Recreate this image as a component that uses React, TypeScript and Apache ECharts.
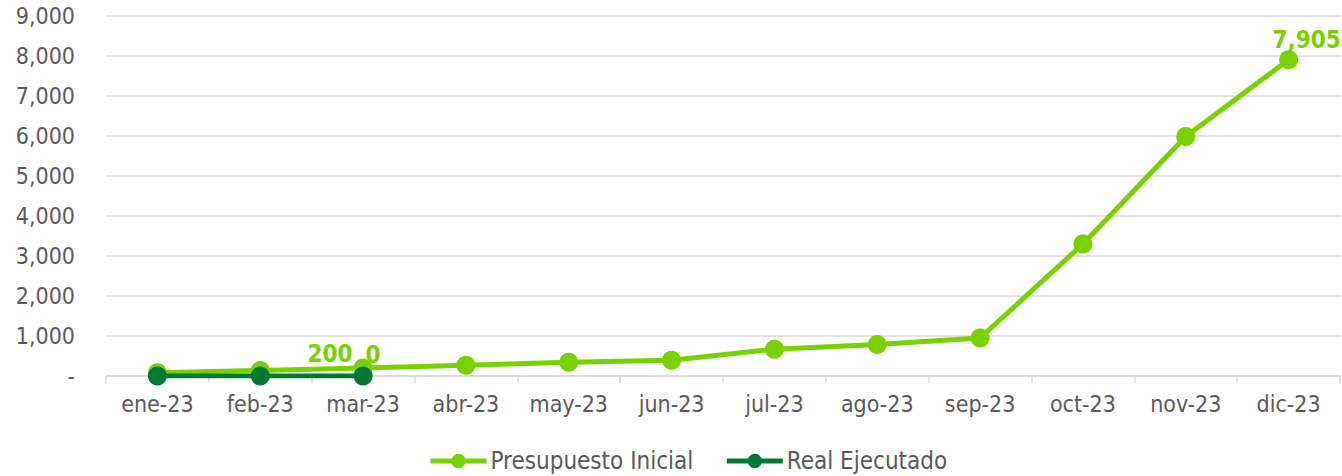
import React, { useEffect, useRef } from "react";
import * as echarts from "echarts";

const categories = ["ene-23", "feb-23", "mar-23", "abr-23", "may-23", "jun-23", "jul-23", "ago-23", "sep-23", "oct-23", "nov-23", "dic-23"];
const presupuestoInicial = [80, 140, 200, 270, 345, 395, 670, 785, 950, 3300, 5990, 7905];
const realEjecutado = [0, 0, 0];
const yTicks = [0, 1000, 2000, 3000, 4000, 5000, 6000, 7000, 8000, 9000];

const LIGHT = "#78D200";
const DARK = "#007A33";
const TEXT = "#595959";
const FONT = "'DejaVu Sans Condensed', 'DejaVu Sans', sans-serif";

export default function App() {
  const ref = useRef<HTMLDivElement>(null);
  useEffect(() => {
    if (!ref.current) return;
    const chart = echarts.init(ref.current, null, { renderer: "svg" });
    const fmt = (v: number) => (v === 0 ? "-" : v.toLocaleString("en-US"));
    chart.setOption({
      animation: false,
      textStyle: { fontFamily: FONT },
      grid: { left: 106, right: 2, top: 16, bottom: 100, containLabel: false },
      legend: {
        bottom: 3,
        left: 428,
        padding: 0,
        itemWidth: 56,
        itemHeight: 18,
        itemGap: 31,
        lineStyle: { width: 5 },
        textStyle: { color: TEXT, fontSize: 24, fontFamily: FONT, padding: [0, 0, 0, -1] },
        data: ["Presupuesto Inicial", "Real Ejecutado"],
      },
      xAxis: {
        type: "category",
        data: categories,
        boundaryGap: true,
        axisLine: { lineStyle: { color: "#d9d9d9", width: 1.5 } },
        axisTick: { show: true, alignWithLabel: false, length: 7, lineStyle: { color: "#d9d9d9", width: 1.5 } },
        axisLabel: { color: TEXT, fontSize: 23, fontFamily: FONT, margin: 16 },
      },
      yAxis: {
        type: "value",
        min: yTicks[0],
        max: yTicks[yTicks.length - 1],
        interval: 1000,
        axisLine: { show: false },
        axisTick: { show: false },
        splitLine: { lineStyle: { color: "#d9d9d9", width: 1.5 } },
        axisLabel: { color: TEXT, fontSize: 23, fontFamily: FONT, margin: 31, formatter: fmt },
      },
      series: [
        {
          name: "Presupuesto Inicial",
          type: "line",
          data: presupuestoInicial.map((v, i) => ({
            value: v,
            label:
              i === 2
                ? { show: true, position: "top", offset: [-33, 12] }
                : i === presupuestoInicial.length - 1
                ? { show: true, position: "top", offset: [18, 7] }
                : { show: false },
          })),
          symbol: "circle",
          symbolSize: 19,
          lineStyle: { color: LIGHT, width: 5 },
          itemStyle: { color: LIGHT },
          label: {
            color: LIGHT,
            fontWeight: "bold",
            fontSize: 24,
            fontFamily: FONT,
            formatter: (p: any) => Number(p.value).toLocaleString("en-US"),
          },
          z: 2,
        },
        {
          name: "Real Ejecutado",
          type: "line",
          data: realEjecutado.map((v, i) => ({
            value: v,
            label:
              i === realEjecutado.length - 1
                ? { show: true, position: "top", offset: [10, 5] }
                : { show: false },
          })),
          symbol: "circle",
          symbolSize: 19,
          lineStyle: { color: DARK, width: 5 },
          itemStyle: { color: DARK },
          label: {
            color: LIGHT,
            fontWeight: "bold",
            fontSize: 24,
            fontFamily: FONT,
            formatter: (p: any) => String(p.value),
          },
          z: 3,
        },
      ],
    });
    return () => chart.dispose();
  }, []);
  return <div ref={ref} style={{ width: 1342, height: 476, position: "absolute", left: 0, top: 0 }} />;
}
